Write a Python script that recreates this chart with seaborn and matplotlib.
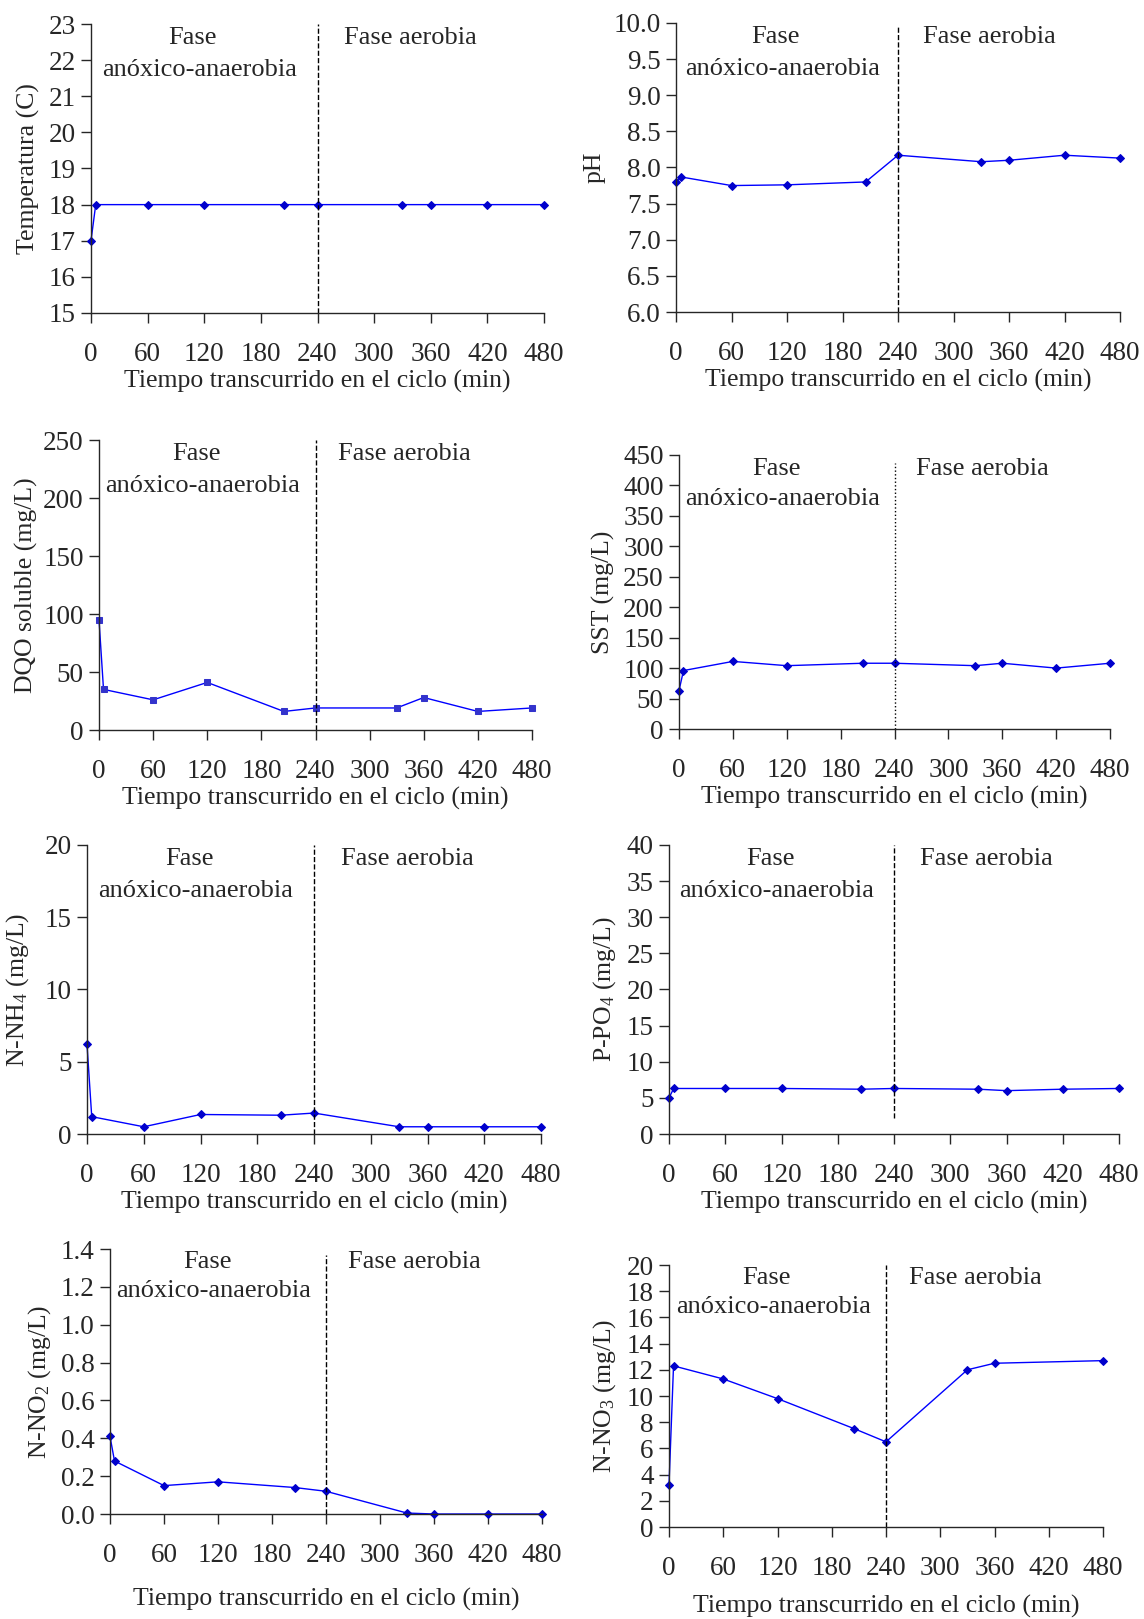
import numpy as np
import pandas as pd
import matplotlib
matplotlib.use("Agg")
import matplotlib.pyplot as plt
import seaborn as sns

# ---------------------------------------------------------
# Data (time in minutes)
# ---------------------------------------------------------
tiempo = [0, 5, 60, 120, 205, 240, 330, 360, 420, 480]
tiempo_no3 = [0, 5, 60, 120, 205, 240, 330, 360, 480]

temperatura = [17, 18, 18, 18, 18, 18, 18, 18, 18, 18]
ph = [7.80, 7.87, 7.75, 7.76, 7.80, 8.17, 8.08, 8.10, 8.17, 8.13]
dqo = [95, 35, 26, 41, 16, 19, 19, 28, 16, 19]
sst = [63, 96, 111, 104, 108, 108, 104, 108, 100, 108]
nh4 = [6.2, 1.2, 0.5, 1.35, 1.3, 1.45, 0.5, 0.5, 0.5, 0.5]
po4 = [5.0, 6.3, 6.3, 6.3, 6.2, 6.3, 6.2, 6.0, 6.2, 6.3]
no2 = [0.41, 0.28, 0.15, 0.17, 0.14, 0.12, 0.005, 0.0, 0.0, 0.0]
no3 = [3.2, 12.3, 11.3, 9.8, 7.5, 6.5, 12.0, 12.5, 12.7]

xticks = [0, 60, 120, 180, 240, 300, 360, 420, 480]

sns.set_style("ticks")
plt.rcParams['font.family'] = ['Liberation Serif', 'DejaVu Serif']
plt.rcParams['mathtext.default'] = 'regular'

W, H = 1144, 1619
fig = plt.figure(figsize=(W / 100, H / 100), dpi=100)

TICK_FS = 19.5
LAB_FS = 18.5
TXT_FS = 19


def panel(box, x, y, ylabel, ylim, yticks, yfmt, marker="D", msize=4,
          mcolor="#0000CC", vline=(0.0, 1.0), vstyle="--", xpad=14, xlabpad=2,
          ylabpad=6):
    # box in pixels: left, top, right, bottom
    l, t, r, b = box
    ax = fig.add_axes([l / W, 1 - b / H, (r - l) / W, (b - t) / H])
    df = pd.DataFrame({"t": x, "v": y})
    sns.lineplot(data=df, x="t", y="v", ax=ax, color="#0000FF", linewidth=1,
                 marker=marker, markersize=msize, markerfacecolor=mcolor,
                 markeredgecolor=mcolor, clip_on=False)
    ax.set_xlim(0, 480)
    ax.set_ylim(*ylim)
    ax.set_xticks(xticks)
    ax.set_yticks(yticks)
    ax.set_yticklabels([yfmt.format(v) for v in yticks])
    ax.tick_params(axis="x", direction="out", length=7, width=1, pad=xpad, labelsize=TICK_FS)
    ax.tick_params(axis="y", direction="out", length=7, width=1, pad=4, labelsize=TICK_FS)
    ax.set_xlabel("Tiempo transcurrido en el ciclo (min)", fontsize=LAB_FS, labelpad=xlabpad)
    ax.set_ylabel(ylabel, fontsize=LAB_FS, labelpad=ylabpad)
    sns.despine(ax=ax)
    for s in ("left", "bottom"):
        ax.spines[s].set_linewidth(1)
    ax.axvline(240, ymin=vline[0], ymax=vline[1], color="black",
               linestyle=vstyle, linewidth=1)
    ax.text(0.225, 0.95, "Fase", transform=ax.transAxes, ha="center", va="center", fontsize=TXT_FS)
    ax.text(0.24, 0.84, "anóxico-anaerobia", transform=ax.transAxes,
            ha="center", va="center", fontsize=TXT_FS)
    ax.text(0.705, 0.95, "Fase aerobia", transform=ax.transAxes,
            ha="center", va="center", fontsize=TXT_FS)
    return ax


panel((91, 24, 544, 313), tiempo, temperatura, "Temperatura (C)", (15, 23),
      list(range(15, 24)), "{:d}")
panel((676, 23, 1120, 312), tiempo, ph, "pH", (6, 10),
      list(np.arange(6.0, 10.01, 0.5)), "{:.1f}", vline=(0, 0.985))
panel((99, 440, 532, 730), tiempo, dqo, "DQO soluble (mg/L)", (0, 250),
      list(range(0, 251, 50)), "{:d}", marker="s", msize=5, mcolor="#3333CC",
      ylabpad=4)
panel((679, 455, 1110, 729), tiempo, sst, "SST (mg/L)", (0, 450),
      list(range(0, 451, 50)), "{:d}", vline=(0, 0.97), vstyle=":")
panel((87, 845, 541, 1134), tiempo, nh4, "N-NH$_4$ (mg/L)", (0, 20),
      list(range(0, 21, 5)), "{:d}", ylabpad=10)
panel((669, 845, 1119, 1134), tiempo, po4, "P-PO$_4$ (mg/L)", (0, 40),
      list(range(0, 41, 5)), "{:d}", vline=(0.054, 1.0))
panel((110, 1249, 542, 1514), tiempo, no2, "N-NO$_2$ (mg/L)", (0, 1.4),
      list(np.arange(0, 1.41, 0.2)), "{:.1f}", vline=(0, 0.977), xlabpad=14)
panel((669, 1265, 1103, 1527), tiempo_no3, no3, "N-NO$_3$ (mg/L)", (0, 20),
      list(range(0, 21, 2)), "{:d}", xlabpad=10)

fig.savefig("out.png", dpi=100)
